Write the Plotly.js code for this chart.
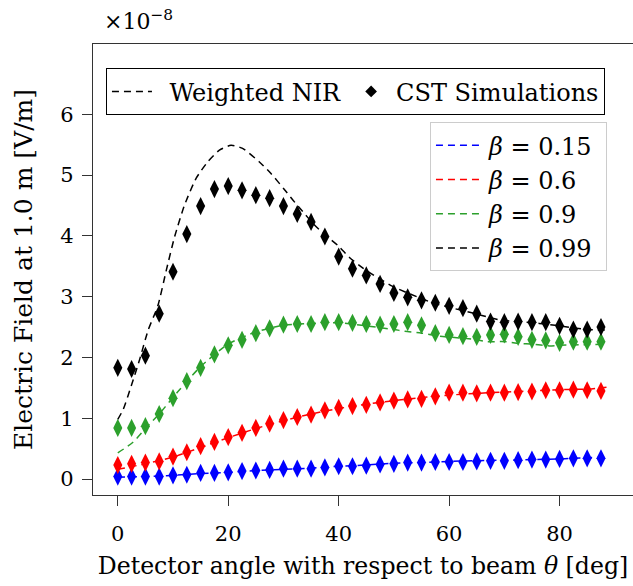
<!DOCTYPE html>
<html>
<head>
<meta charset="utf-8">
<script src="https://cdn.plot.ly/plotly-3.0.1.min.js"></script>
<style>html,body{margin:0;padding:0;overflow:hidden;background:#fff}</style>
</head>
<body>
<div id="chart" style="width:633px;height:586px"></div>
<script>
// Detector angle (deg) for CST simulation points
const theta = [0,2.5,5,7.5,10,12.5,15,17.5,20,22.5,25,27.5,30,32.5,35,37.5,40,42.5,45,47.5,50,52.5,55,57.5,60,62.5,65,67.5,70,72.5,75,77.5,80,82.5,85,87.5];
// CST simulations (x1e-8 V/m)
const cst015 = [0.04,0.04,0.04,0.04,0.06,0.07,0.10,0.10,0.11,0.13,0.14,0.15,0.17,0.17,0.17,0.19,0.21,0.21,0.22,0.24,0.25,0.27,0.27,0.28,0.28,0.28,0.29,0.30,0.30,0.31,0.32,0.32,0.33,0.34,0.34,0.34];
const cst06  = [0.23,0.25,0.27,0.29,0.37,0.44,0.54,0.61,0.69,0.76,0.84,0.91,0.97,1.02,1.06,1.13,1.17,1.20,1.22,1.26,1.29,1.31,1.32,1.36,1.42,1.42,1.41,1.42,1.42,1.43,1.44,1.46,1.46,1.47,1.46,1.45];
const cst09  = [0.84,0.84,0.87,1.07,1.33,1.61,1.83,2.05,2.20,2.29,2.40,2.48,2.54,2.55,2.55,2.58,2.58,2.57,2.55,2.54,2.55,2.58,2.53,2.40,2.37,2.35,2.34,2.37,2.38,2.34,2.29,2.28,2.24,2.26,2.26,2.26];
const cst099 = [1.83,1.81,2.03,2.72,3.41,4.03,4.49,4.77,4.82,4.75,4.67,4.62,4.49,4.36,4.23,3.99,3.66,3.46,3.35,3.21,3.06,2.99,2.94,2.90,2.85,2.81,2.72,2.59,2.58,2.59,2.58,2.58,2.52,2.46,2.46,2.50];

// Weighted NIR curves (x1e-8 V/m), read at sample angles
const nirAngleA = [0,5,10,15,20,25,30,35,40,45,50,55,60,65,70,75,80,85,88.5];
const nir015 = [0.03,0.04,0.06,0.09,0.11,0.14,0.16,0.18,0.21,0.23,0.26,0.27,0.29,0.30,0.31,0.32,0.33,0.35,0.36];
const nir06  = [0.16,0.25,0.36,0.52,0.68,0.83,0.96,1.07,1.16,1.23,1.29,1.34,1.38,1.41,1.43,1.45,1.47,1.48,1.51];
const nirAngleG = [0,2.7,5,7.5,9.7,10.9,15,20,25,30,35,40,45,50,52,55,58.3,62,64.3,67,70,72.8,75,78.2,80,85,88.5];
const nir09  = [0.43,0.60,0.83,1.07,1.31,1.44,1.85,2.22,2.42,2.53,2.56,2.57,2.52,2.46,2.43,2.40,2.35,2.32,2.30,2.26,2.26,2.23,2.22,2.19,2.20,2.21,2.22];
const nirAngleK = [0,1,2.5,4,5.5,7.25,8.8,10.3,12.1,14.2,16.3,18.4,20.5,22.6,25.6,27.7,30.2,31.7,33.5,35.3,37.1,40,42,44.4,47.1,49.8,52.5,57,60.7,64.3,69.1,76.3,80,84.9,88.5];
const nir099 = [0.98,1.15,1.55,1.98,2.45,2.85,3.44,3.99,4.51,4.95,5.22,5.41,5.49,5.44,5.22,5.03,4.76,4.59,4.40,4.21,4.05,3.83,3.64,3.47,3.31,3.17,3.06,2.90,2.81,2.73,2.62,2.56,2.52,2.46,2.45];

const betaLabels = ['<i>β</i> = 0.15','<i>β</i> = 0.6','<i>β</i> = 0.9','<i>β</i> = 0.99'];
const colors = ['#0000ff','#ff0000','#2ca02c','#000000'];
const yTickVals = [0,1,2,3,4,5,6];
const xTickVals = [0,20,40,60,80];

const nirX = [nirAngleA, nirAngleA, nirAngleG, nirAngleK];
const nirY = [nir015, nir06, nir09, nir099];
const cstY = [cst015, cst06, cst09, cst099];

const NB = '\u00a0';
const TS = '\u2009';
const traces = [];
for (let i = 0; i < 4; i++) {
  traces.push({
    x: nirX[i], y: nirY[i], type: 'scatter', mode: 'lines',
    line: {color: colors[i], width: 1.5, dash: '7px,5px', shape: 'spline', smoothing: 0.6},
    name: betaLabels[i] + NB, legend: 'legend2', showlegend: true, hoverinfo: 'skip'
  });
}
for (let i = 0; i < 4; i++) {
  traces.push({
    x: theta, y: cstY[i], type: 'scatter', mode: 'markers',
    marker: {symbol: 'diamond-tall', size: 13, color: colors[i]},
    showlegend: false, hoverinfo: 'skip'
  });
}
// legend-only entries
traces.push({x:[null], y:[null], type:'scatter', mode:'lines', name: NB+TS+'Weighted NIR',
  line:{color:'#000', width:1.5, dash:'7px,5px'}, legend:'legend', showlegend:true});
traces.push({x:[null], y:[null], type:'scatter', mode:'markers', name:'CST Simulations',
  marker:{symbol:'diamond', size:9, color:'#000'}, legend:'legend', showlegend:true});

const layout = {
  width: 633, height: 586,
  margin: {l: 93, r: 0, t: 44, b: 91},
  paper_bgcolor: '#fff', plot_bgcolor: '#fff',
  font: {family: 'DejaVu Serif', size: 21, color: '#000'},
  showlegend: true,
  xaxis: {
    range: [-4.49, 93.3], tickvals: xTickVals, ticks: 'outside', ticklen: 10, tickwidth: 1,
    tickcolor: '#333', showline: true, linecolor: '#333', linewidth: 1.2, mirror: true,
    showgrid: false, zeroline: false, tickfont: {size: 21}, ticklabelstandoff: 10,
    title: {text: 'Detector angle with respect to beam <i>θ</i> [deg]', font: {size: 23.6}, standoff: 12}
  },
  yaxis: {
    range: [-0.263, 7.157], tickvals: yTickVals, ticks: 'outside', ticklen: 10, tickwidth: 1,
    tickcolor: '#333', showline: true, linecolor: '#333', linewidth: 1.2, mirror: false,
    showgrid: false, zeroline: false, tickfont: {size: 21}, ticklabelstandoff: 4,
    title: {text: 'Electric Field at 1.0 m [V/m]', font: {size: 25}, standoff: 20}
  },
  legend: {
    x: 0.024, y: 0.946, xanchor: 'left', yanchor: 'top', orientation: 'h',
    bgcolor: '#fff', bordercolor: '#000', borderwidth: 1,
    font: {size: 24}, itemwidth: 40
  },
  legend2: {
    x: 0.624, y: 0.8266, xanchor: 'left', yanchor: 'top', orientation: 'v',
    bgcolor: '#fff', bordercolor: '#cccccc', borderwidth: 1,
    font: {size: 24}, itemwidth: 48
  },
  annotations: [{
    xref: 'paper', yref: 'paper', x: 0.0167, y: 1.0, xanchor: 'left', yanchor: 'bottom',
    text: '×10<sup>−8</sup>', showarrow: false, font: {size: 22}, yshift: 8
  }]
};
Plotly.newPlot('chart', traces, layout, {displayModeBar: false, staticPlot: true});
</script>
</body>
</html>
